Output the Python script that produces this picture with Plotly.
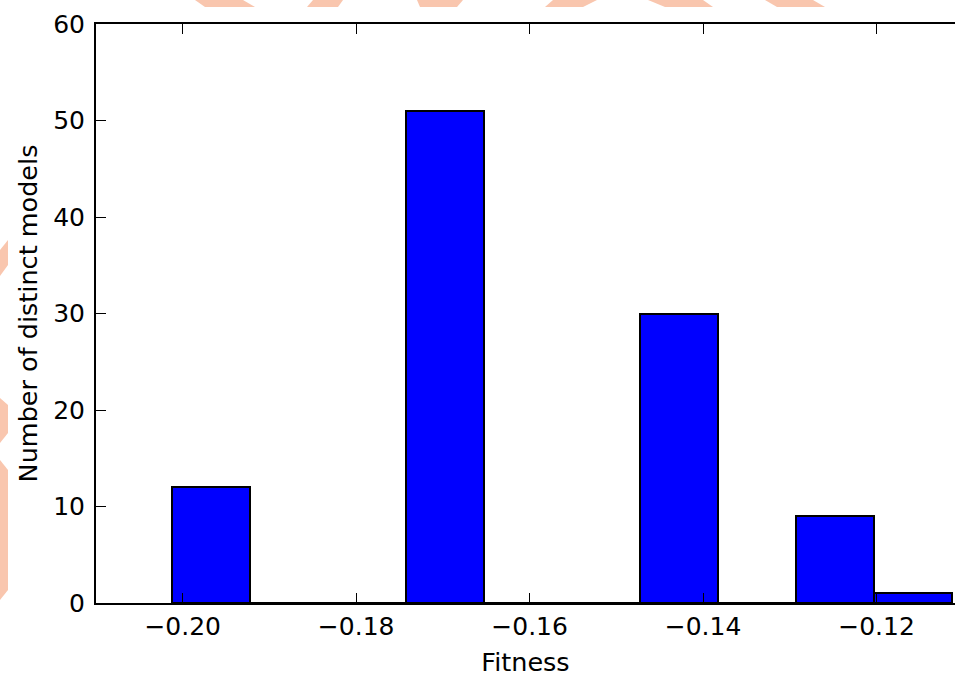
import plotly.graph_objects as go

# Histogram data
bin_start = -0.2012
bin_width = 0.00899
counts = [12, 0, 0, 51, 0, 0, 30, 0, 9, 1]
x_ticks = [-0.20, -0.18, -0.16, -0.14, -0.12]
x_tick_labels = ["\u22120.20", "\u22120.18", "\u22120.16", "\u22120.14", "\u22120.12"]
y_ticks = [0, 10, 20, 30, 40, 50, 60]

centers = [bin_start + bin_width * (i + 0.5) for i in range(len(counts))]

W, H = 955, 677
ML, MR, MT, MB = 96, 0, 24, 74

fig = go.Figure(
    go.Bar(
        x=centers,
        y=counts,
        width=[bin_width] * len(counts),
        marker=dict(color="#0000ff", line=dict(color="black", width=2)),
    )
)

tick_font = dict(family="DejaVu Sans", size=25, color="black")
title_font = dict(family="DejaVu Sans", size=25.5, color="black")

# decorative light-salmon watermark fragments at the page edges (pixel outlines)
deco_polys = [
    [(195, 0), (243, 0), (255, 7), (205, 7)],
    [(313, 0), (343, 0), (338, 7), (307, 7)],
    [(417, 0), (463, 0), (457, 7), (420, 7)],
    [(553, 0), (597, 0), (583, 7), (545, 7)],
    [(648, 0), (703, 0), (713, 7), (665, 7)],
    [(765, 0), (813, 0), (825, 7), (777, 7)],
    [(0, 250), (8, 240), (8, 265), (0, 276)],
    [(0, 398), (8, 405), (8, 433), (0, 443)],
    [(0, 460), (8, 470), (8, 590), (0, 600)],
]
pw, ph = W - ML - MR, H - MT - MB


def to_paper(px, py):
    return (px - ML) / pw, (H - MB - py) / ph


shapes = []
for poly in deco_polys:
    pts = [to_paper(x, y) for x, y in poly]
    path = "M " + " L ".join(f"{x:.5f},{y:.5f}" for x, y in pts) + " Z"
    shapes.append(
        dict(type="path", xref="paper", yref="paper", path=path,
             fillcolor="#f9c6ae", line=dict(width=0), layer="below")
    )

fig.update_layout(
    width=W,
    height=H,
    margin=dict(l=ML, r=MR, t=MT, b=MB),
    plot_bgcolor="white",
    paper_bgcolor="white",
    font=tick_font,
    showlegend=False,
    bargap=0,
    shapes=shapes,
)
fig.update_xaxes(
    range=[-0.21, -0.11095],
    tickvals=x_ticks,
    ticktext=x_tick_labels,
    ticks="inside",
    ticklen=10,
    tickwidth=1,
    tickcolor="black",
    showline=True,
    linecolor="black",
    linewidth=2,
    mirror="ticks",
    showgrid=False,
    zeroline=False,
    title=dict(text="Fitness", font=title_font, standoff=18),
    tickfont=tick_font,
)
fig.update_yaxes(
    range=[0, 60],
    tickvals=y_ticks,
    ticks="inside",
    ticklen=10,
    tickwidth=1,
    tickcolor="black",
    showline=True,
    linecolor="black",
    linewidth=2,
    showgrid=False,
    zeroline=False,
    ticklabelstandoff=4,
    title=dict(text="Number of distinct models", font=title_font, standoff=8),
    tickfont=tick_font,
)

fig.write_html(
    "out.html",
    config={"displayModeBar": False},
    post_script="document.body.style.margin='0';document.body.style.overflow='hidden';",
)
